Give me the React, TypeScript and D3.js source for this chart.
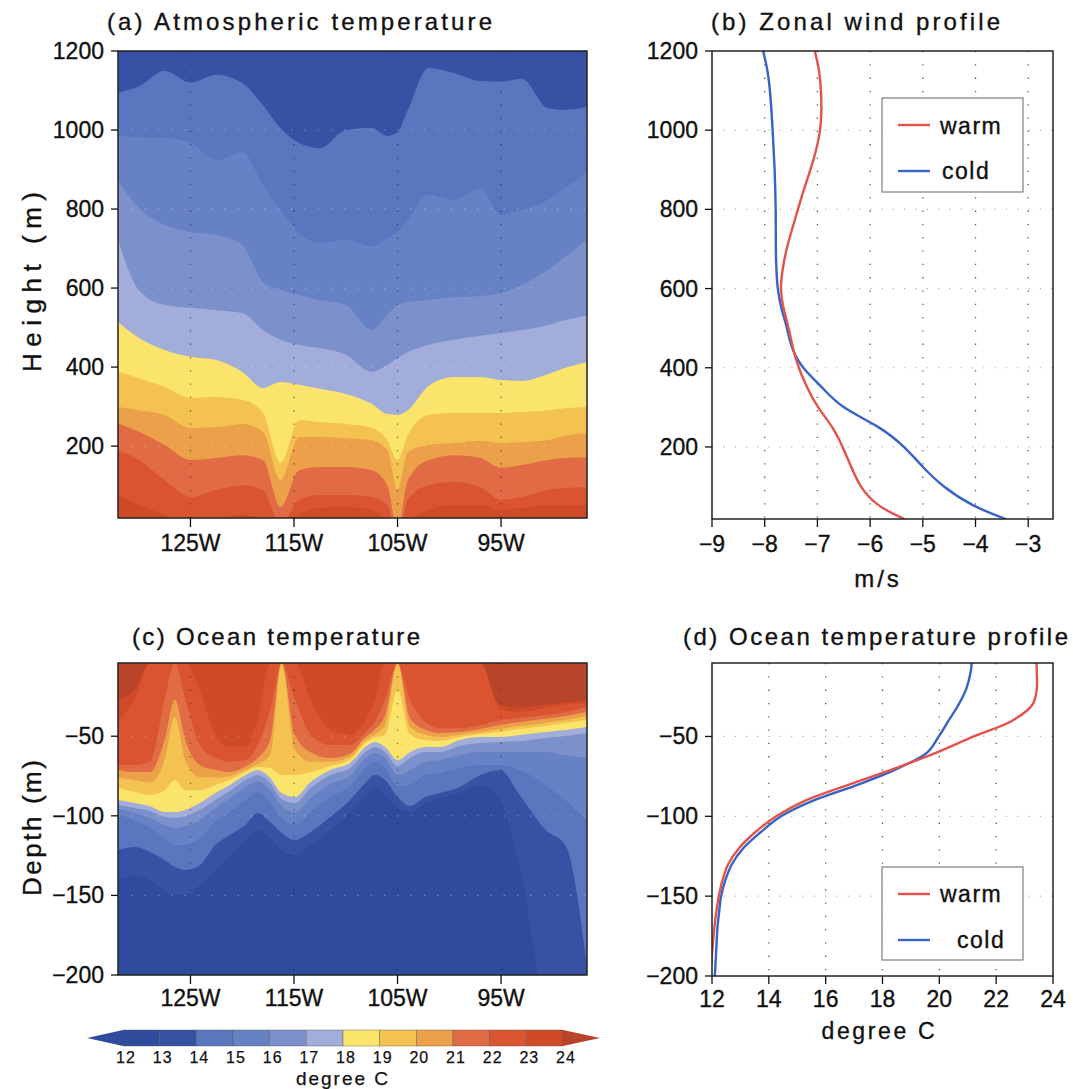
import * as d3 from "d3";

// ---- (a) atmospheric temperature: height (m) of each isotherm along longitude
const atmLon = [-132, -130, -127.5, -125, -122.5, -120, -118, -116.3, -114.5, -112.5, -110, -107.5, -106, -105, -104, -102, -99.5, -97, -95, -93, -90.5, -88.8, -86.7];
const atm14 = [1094, 1110, 1150, 1120, 1140, 1119, 1063, 1005, 967, 954, 1000, 1005, 985, 995, 1051, 1157, 1144, 1124, 1122, 1130, 1056, 1051, 1058];
const atm15 = [987, 982, 980, 967, 924, 944, 861, 798, 739, 714, 722, 706, 727, 742, 772, 836, 823, 853, 785, 798, 823, 853, 894];
const atm16 = [873, 803, 760, 742, 734, 709, 615, 595, 582, 570, 557, 494, 532, 557, 565, 570, 577, 580, 587, 608, 646, 679, 722];
const atm17 = [722, 595, 557, 550, 544, 537, 494, 469, 456, 448, 431, 388, 405, 423, 438, 456, 469, 479, 486, 494, 506, 519, 529];
const atm18 = [514, 474, 443, 426, 418, 388, 347, 362, 355, 345, 332, 307, 281, 279, 291, 352, 375, 375, 367, 365, 382, 398, 413];
const atm19 = [388, 372, 350, 322, 324, 317, 284, 157, 266, 261, 256, 246, 215, 165, 228, 279, 284, 284, 284, 286, 291, 296, 299];
const atm20 = [299, 291, 279, 246, 248, 256, 236, 114, 223, 223, 220, 215, 190, 89, 185, 203, 208, 213, 208, 210, 215, 226, 233];
const atm21 = [258, 236, 203, 165, 170, 177, 165, 46, 139, 147, 147, 139, 101, -12, 114, 165, 177, 170, 145, 152, 165, 170, 172];
const atm22 = [190, 165, 114, 71, 89, 101, 89, 0, 64, 76, 76, 71, 51, -38, 64, 101, 109, 96, 64, 71, 89, 94, 96];
const atm23 = [76, 51, 26, 0, 13, 26, 13, -38, 26, 43, 46, 38, 0, -88, 0, 38, 51, 51, 38, 43, 51, 51, 51];
const atmLevels = [14, 15, 16, 17, 18, 19, 20, 21, 22, 23];
const atmIsos = [atm14, atm15, atm16, atm17, atm18, atm19, atm20, atm21, atm22, atm23];

// ---- (c) ocean temperature: depth (m) of each isotherm along longitude
const ocnLon = [-132, -130.4, -128.9, -127.5, -126.5, -125.5, -124.1, -122.6, -121.2, -119.7, -118.5, -117.3, -116.2, -114.9, -113.4, -111.5, -109.6, -108.1, -107.2, -106.2, -105, -103.8, -102.3, -100.9, -99, -97, -95.1, -93.2, -90.7, -88.8, -86.7];
const ocn13 = [-140.3, -137.2, -140.3, -146.6, -149.7, -149.7, -143.5, -134, -124.6, -115.2, -108.9, -113.9, -121.5, -124.6, -118.3, -108.9, -97.6, -86.9, -81.9, -86.9, -95.1, -97.6, -91.9, -88.8, -85.7, -80.6, -90.1, -132, -210, -210, -210];
const ocn14 = [-121.5, -119.6, -122.7, -127.8, -132.2, -134, -130.9, -118.3, -112, -105.8, -98.2, -103.9, -110.8, -115.2, -110.2, -100.7, -90.1, -79.4, -74.4, -77.5, -88.2, -93.8, -88.2, -85.7, -81.9, -74.4, -71.2, -86.9, -108.9, -118.3, -193.7];
const ocn15 = [-99.5, -102.6, -107.7, -113.9, -118.3, -118.3, -113.9, -103.9, -97.6, -90.1, -85, -91.3, -101.4, -105.8, -97.6, -88.2, -81.3, -70, -66.2, -70, -81.3, -80.6, -74.4, -73.1, -70, -68.1, -68.1, -71.2, -80.6, -90.1, -102.6];
const ocn16 = [-95.7, -98.2, -101.4, -105.8, -107.7, -106.4, -102.6, -95.1, -88.8, -81.9, -78.1, -83.8, -93.8, -97.6, -88.8, -80, -75, -63.7, -60.5, -63.7, -74.4, -71.2, -66.2, -64.9, -61.8, -59.9, -59.9, -59.9, -59.9, -61.8, -63.7];
const ocn17 = [-93.2, -95.1, -97, -100.7, -101.4, -100.1, -96.3, -90.1, -84.4, -77.5, -74.4, -79.4, -89.4, -91.9, -82.5, -74.4, -70, -59.9, -56.8, -59.9, -68.7, -63.7, -59.9, -59.9, -56.1, -54.3, -53.6, -53, -51.1, -49.9, -48];
const ocn18 = [-90, -92, -94, -97.6, -97.6, -96.3, -92, -85.7, -80.6, -74.4, -71.2, -76.2, -85.7, -88.2, -78.8, -71.2, -66.8, -56.8, -53.6, -56.8, -65, -60, -56.8, -56.8, -52.4, -50.5, -50.5, -49.2, -47.3, -46.1, -44.2];
const ocn19 = [-82.5, -85, -87, -84, -77.5, -84, -84, -80.6, -77.5, -72.5, -69.3, -70, -74.4, -74.4, -72.5, -68.7, -65, -54.3, -51, -49, -21, -49, -52.4, -53, -50.5, -48.6, -47.3, -45.5, -43.6, -41.7, -39.8];
const ocn20 = [-76, -77.5, -79, -65, -38, -65, -75.6, -76, -75, -71, -67.4, -61.8, -4, -58.7, -66, -66, -63, -52.4, -49, -43, -4, -44, -49, -50.5, -49, -47.3, -45.5, -43.6, -41.7, -39.8, -37.3];
const ocn21 = [-71, -72.5, -72.5, -52.4, -27, -52.4, -68, -71, -72.5, -69, -63.7, -52.4, -4, -49, -60, -63.7, -61, -50.5, -46, -36.7, -4, -38.6, -46, -48, -47.3, -45.5, -43, -41, -39, -37.3, -34.8];
const ocn22 = [-68, -68, -66, -27, -4, -27, -55.5, -63.7, -66, -65, -55.5, -33.5, -4, -27, -49, -55.5, -55.5, -47.3, -41, -27, -4, -27, -41, -45, -45, -43, -40, -38.6, -36.7, -34.8, -31.6];
const ocn23 = [-40, -27, -4, -4, -4, -4, -21, -49, -57, -57, -40, -4, -4, -4, -27, -46, -49, -40, -27, -4, -4, -4, -4, -4, -4, -4, -33, -35, -32, -30, -29];
const ocn24 = [-27, -21, -4, -4, -4, -4, -4, -4, -4, -4, -4, -4, -4, -4, -4, -4, -4, -4, -4, -4, -4, -4, -4, -4, -4, -4, -30, -32, -30, -29, -27];
const ocnLevels = [13, 14, 15, 16, 17, 18, 19, 20, 21, 22, 23, 24];
const ocnIsos = [ocn13, ocn14, ocn15, ocn16, ocn17, ocn18, ocn19, ocn20, ocn21, ocn22, ocn23, ocn24];

// ---- (b) zonal wind profile
const windHeight = [1200, 1150, 1100, 1050, 1000, 950, 900, 850, 800, 750, 700, 650, 600, 550, 500, 450, 400, 350, 300, 250, 200, 150, 100, 50, 18];
const windWarm = [-7.05, -6.96, -6.93, -6.92, -6.94, -7.02, -7.13, -7.26, -7.37, -7.48, -7.59, -7.66, -7.71, -7.65, -7.54, -7.47, -7.36, -7.2, -7.0, -6.7, -6.52, -6.36, -6.2, -5.87, -5.35];
const windCold = [-8.03, -7.94, -7.9, -7.87, -7.85, -7.83, -7.81, -7.8, -7.79, -7.79, -7.79, -7.78, -7.76, -7.69, -7.57, -7.5, -7.3, -6.9, -6.57, -5.79, -5.34, -5.01, -4.63, -4.06, -3.43];

// ---- (d) ocean temperature profile
const profDepth = [-4, -10, -20, -30, -40, -50, -60, -70, -80, -90, -100, -110, -120, -130, -140, -150, -160, -170, -180, -190, -200];
const profWarm = [23.42, 23.43, 23.43, 23.28, 22.58, 21.21, 19.92, 18.44, 16.84, 15.3, 14.26, 13.52, 12.95, 12.57, 12.37, 12.24, 12.15, 12.08, 12.03, 11.98, 11.93];
const profCold = [21.14, 21.1, 20.95, 20.68, 20.33, 19.98, 19.58, 18.54, 17.17, 15.58, 14.43, 13.71, 13.1, 12.7, 12.47, 12.32, 12.25, 12.19, 12.16, 12.13, 12.1];

const lonTicks = [-125, -115, -105, -95];
const heightTicks = [200, 400, 600, 800, 1000, 1200];
const depthTicks = [-50, -100, -150, -200];
const windTicks = [-9, -8, -7, -6, -5, -4, -3];
const tempTicks = [12, 14, 16, 18, 20, 22, 24];
const cbTicks = [12, 13, 14, 15, 16, 17, 18, 19, 20, 21, 22, 23, 24];

const FONT = "'Liberation Sans', Arial, Helvetica, sans-serif";
const RED = "#e2534c";
const BLUE = "#3663c6";

const bandColor = d3
  .scaleThreshold<number, string>()
  .domain([12, 13, 14, 15, 16, 17, 18, 19, 20, 21, 22, 23, 24])
  .range(["#2f4b9e", "#2f4b9e", "#3752a5", "#5a76be", "#6682c4", "#7c91cb", "#a2add9", "#fbe46c", "#f3c250", "#eca049", "#e06b44", "#da5430", "#cf4a27", "#b8452a"]);

const neg = (v: number) => (v < 0 ? "\u2212" + Math.abs(v) : String(v));

// slightly heavier text, like the original plotting package
const ink = { stroke: "#111", strokeWidth: 0.35, fill: "#111" };

export default function App() {
  const ax = d3.scaleLinear().domain([-132, -86.7]).range([118, 587]);
  const ayA = d3.scaleLinear().domain([18, 1200]).range([518, 51]);
  const ayC = d3.scaleLinear().domain([-200, -4]).range([975, 663]);
  const bx = d3.scaleLinear().domain([-9, -2.53]).range([712, 1053]);
  const by = d3.scaleLinear().domain([18, 1200]).range([519, 51]);
  const dx = d3.scaleLinear().domain([12, 24]).range([712, 1053]);
  const dy = d3.scaleLinear().domain([-200, -4]).range([976, 663]);
  const cbx = d3.scaleLinear().domain([12, 24]).range([123, 563]);

  const atmArea = d3
    .area<number>()
    .x((_, i) => ax(atmLon[i]))
    .y0(ayA(-400))
    .y1((v) => ayA(v))
    .curve(d3.curveMonotoneX);
  const ocnArea = d3
    .area<number>()
    .x((_, i) => ax(ocnLon[i]))
    .y0(ayC(40))
    .y1((v) => ayC(v))
    .curve(d3.curveMonotoneX);

  const windLine = (vals: number[]) =>
    d3
      .line<number>()
      .x((v) => bx(v))
      .y((_, i) => by(windHeight[i]))
      .curve(d3.curveBasis)(vals) || "";
  const profLine = (vals: number[]) =>
    d3
      .line<number>()
      .x((v) => dx(v))
      .y((_, i) => dy(profDepth[i]))
      .curve(d3.curveCatmullRom)(vals) || "";

  const tickFs = 23;

  return (
    <svg
      width={1073}
      height={1089}
      style={{ position: "absolute", left: 0, top: 0, background: "#fff" }}
      fontFamily={FONT}
    >
      <defs>
        <clipPath id="clipA"><rect x={118} y={51} width={469} height={467} /></clipPath>
        <clipPath id="clipB"><rect x={712} y={51} width={341} height={468} /></clipPath>
        <clipPath id="clipC"><rect x={118} y={663} width={469} height={312} /></clipPath>
        <clipPath id="clipD"><rect x={712} y={663} width={341} height={313} /></clipPath>
      </defs>

      {/* titles */}
      <g {...ink}>
        <text x={107} y={30} fontSize={24} textLength={385} lengthAdjust="spacing">(a) Atmospheric temperature</text>
        <text x={711} y={30} fontSize={24} textLength={289} lengthAdjust="spacing">(b) Zonal wind profile</text>
        <text x={132} y={645} fontSize={24} textLength={288} lengthAdjust="spacing">(c) Ocean temperature</text>
        <text x={683} y={645} fontSize={24} textLength={385} lengthAdjust="spacing">(d) Ocean temperature profile</text>
      </g>

      {/* ---------- panel (a) ---------- */}
      <g clipPath="url(#clipA)">
        <rect x={118} y={51} width={469} height={467} fill={bandColor(13.5)} />
        {atmIsos.map((iso, k) => (
          <path key={k} d={atmArea(iso) || ""} fill={bandColor(atmLevels[k] + 0.5)} />
        ))}
        {lonTicks.map((t) => (
          <line key={t} x1={ax(t)} x2={ax(t)} y1={51} y2={518} stroke="#333" strokeWidth={1.3} strokeDasharray="1.3 12" opacity={0.7} />
        ))}
        {heightTicks.slice(0, 5).map((t) => (
          <line key={t} x1={118} x2={587} y1={ayA(t)} y2={ayA(t)} stroke="#fff" strokeWidth={1.2} strokeDasharray="1.3 12" opacity={0.35} />
        ))}
      </g>
      <rect x={118} y={51} width={469} height={467} fill="none" stroke="#222" strokeWidth={1.5} />
      <g {...ink}>
        {heightTicks.map((t) => (
          <g key={t}>
            <line x1={111} x2={118} y1={ayA(t)} y2={ayA(t)} strokeWidth={1.3} />
            <text x={104} y={ayA(t) + 8} fontSize={tickFs} textAnchor="end">{t}</text>
          </g>
        ))}
        {lonTicks.map((t) => (
          <g key={t}>
            <line x1={ax(t)} x2={ax(t)} y1={518} y2={527} strokeWidth={1.3} />
            <text x={ax(t)} y={551} fontSize={tickFs} textAnchor="middle">{Math.abs(t) + "W"}</text>
          </g>
        ))}
        <text transform="translate(41,282) rotate(-90)" fontSize={26} textAnchor="middle" textLength={180} lengthAdjust="spacing">Height (m)</text>
      </g>

      {/* ---------- panel (b) ---------- */}
      <g clipPath="url(#clipB)">
        {windTicks.slice(1).map((t) => (
          <line key={t} x1={bx(t)} x2={bx(t)} y1={51} y2={519} stroke="#333" strokeWidth={1.3} strokeDasharray="1.3 12" opacity={0.8} />
        ))}
        {heightTicks.slice(0, 5).map((t) => (
          <line key={t} x1={712} x2={1053} y1={by(t)} y2={by(t)} stroke="#999" strokeWidth={1.2} strokeDasharray="1.3 10" opacity={0.7} />
        ))}
        <path d={windLine(windCold)} fill="none" stroke={BLUE} strokeWidth={2.4} />
        <path d={windLine(windWarm)} fill="none" stroke={RED} strokeWidth={2.4} />
      </g>
      <rect x={712} y={51} width={341} height={468} fill="none" stroke="#222" strokeWidth={1.5} />
      <g {...ink}>
        {heightTicks.map((t) => (
          <g key={t}>
            <line x1={705} x2={712} y1={by(t)} y2={by(t)} strokeWidth={1.3} />
            <text x={698} y={by(t) + 8} fontSize={tickFs} textAnchor="end">{t}</text>
          </g>
        ))}
        {windTicks.map((t) => (
          <g key={t}>
            <line x1={bx(t)} x2={bx(t)} y1={519} y2={527} strokeWidth={1.3} />
            <text x={bx(t)} y={552} fontSize={tickFs} textAnchor="middle">{neg(t)}</text>
          </g>
        ))}
        <text x={878} y={587} fontSize={24} textAnchor="middle" letterSpacing={3}>m/s</text>
      </g>
      <rect x={882} y={98} width={141} height={94} fill="#fff" stroke="#666" strokeWidth={1} />
      <line x1={898} x2={930} y1={125} y2={125} stroke={RED} strokeWidth={2.4} />
      <line x1={898} x2={930} y1={171} y2={171} stroke={BLUE} strokeWidth={2.4} />
      <g {...ink}>
        <text x={940} y={134} fontSize={23} letterSpacing={1.5}>warm</text>
        <text x={942} y={179} fontSize={23} letterSpacing={1.5}>cold</text>
      </g>

      {/* ---------- panel (c) ---------- */}
      <g clipPath="url(#clipC)">
        <rect x={118} y={663} width={469} height={312} fill={bandColor(12.5)} />
        {ocnIsos.map((iso, k) => (
          <path key={k} d={ocnArea(iso) || ""} fill={bandColor(ocnLevels[k] + 0.5)} />
        ))}
        {lonTicks.map((t) => (
          <line key={t} x1={ax(t)} x2={ax(t)} y1={663} y2={975} stroke="#333" strokeWidth={1.3} strokeDasharray="1.3 12" opacity={0.6} />
        ))}
        {depthTicks.slice(0, 3).map((t) => (
          <line key={t} x1={118} x2={587} y1={ayC(t)} y2={ayC(t)} stroke="#fff" strokeWidth={1.2} strokeDasharray="1.3 12" opacity={0.35} />
        ))}
      </g>
      <rect x={118} y={663} width={469} height={312} fill="none" stroke="#222" strokeWidth={1.5} />
      <g {...ink}>
        {depthTicks.map((t) => (
          <g key={t}>
            <line x1={111} x2={118} y1={ayC(t)} y2={ayC(t)} strokeWidth={1.3} />
            <text x={104} y={ayC(t) + 8} fontSize={tickFs} textAnchor="end">{neg(t)}</text>
          </g>
        ))}
        {lonTicks.map((t) => (
          <g key={t}>
            <line x1={ax(t)} x2={ax(t)} y1={975} y2={984} strokeWidth={1.3} />
            <text x={ax(t)} y={1006} fontSize={tickFs} textAnchor="middle">{Math.abs(t) + "W"}</text>
          </g>
        ))}
        <text transform="translate(41,828) rotate(-90)" fontSize={26} textAnchor="middle" textLength={136} lengthAdjust="spacing">Depth (m)</text>
      </g>

      {/* ---------- panel (d) ---------- */}
      <g clipPath="url(#clipD)">
        {tempTicks.slice(1, -1).map((t) => (
          <line key={t} x1={dx(t)} x2={dx(t)} y1={663} y2={976} stroke="#333" strokeWidth={1.3} strokeDasharray="1.3 12" opacity={0.8} />
        ))}
        {depthTicks.slice(0, 3).map((t) => (
          <line key={t} x1={712} x2={1053} y1={dy(t)} y2={dy(t)} stroke="#999" strokeWidth={1.2} strokeDasharray="1.3 10" opacity={0.7} />
        ))}
        <path d={profLine(profCold)} fill="none" stroke={BLUE} strokeWidth={2.4} />
        <path d={profLine(profWarm)} fill="none" stroke={RED} strokeWidth={2.4} />
      </g>
      <rect x={712} y={663} width={341} height={313} fill="none" stroke="#222" strokeWidth={1.5} />
      <g {...ink}>
        {depthTicks.map((t) => (
          <g key={t}>
            <line x1={705} x2={712} y1={dy(t)} y2={dy(t)} strokeWidth={1.3} />
            <text x={698} y={dy(t) + 8} fontSize={tickFs} textAnchor="end">{neg(t)}</text>
          </g>
        ))}
        {tempTicks.map((t) => (
          <g key={t}>
            <line x1={dx(t)} x2={dx(t)} y1={976} y2={984} strokeWidth={1.3} />
            <text x={dx(t)} y={1007} fontSize={tickFs} textAnchor="middle">{t}</text>
          </g>
        ))}
        <text x={878} y={1039} fontSize={23} textAnchor="middle" textLength={113} lengthAdjust="spacing">degree C</text>
      </g>
      <rect x={882} y={867} width={141} height={93} fill="#fff" stroke="#666" strokeWidth={1} />
      <line x1={898} x2={930} y1={894} y2={894} stroke={RED} strokeWidth={2.4} />
      <line x1={898} x2={930} y1={940} y2={940} stroke={BLUE} strokeWidth={2.4} />
      <g {...ink}>
        <text x={940} y={902} fontSize={23} letterSpacing={1.5}>warm</text>
        <text x={957} y={948} fontSize={23} letterSpacing={1.5}>cold</text>
      </g>

      {/* ---------- colour bar ---------- */}
      <path d={`M${cbx(12)},1030 L87,1038 L${cbx(12)},1046 Z`} fill={bandColor(11.5)} />
      <path d={`M${cbx(24)},1030 L600,1038 L${cbx(24)},1046 Z`} fill={bandColor(24.5)} />
      {cbTicks.slice(0, -1).map((t) => (
        <rect key={t} x={cbx(t)} y={1030} width={cbx(t + 1) - cbx(t)} height={16} fill={bandColor(t + 0.5)} stroke="#555" strokeWidth={0.4} />
      ))}
      <g {...ink} strokeWidth={0.25}>
        {cbTicks.map((t) => (
          <text key={t} x={cbx(t) + 3} y={1063} fontSize={16} textAnchor="middle" letterSpacing={1}>{t}</text>
        ))}
        <text x={343} y={1085} fontSize={19} textAnchor="middle" letterSpacing={2}>degree C</text>
      </g>
    </svg>
  );
}
